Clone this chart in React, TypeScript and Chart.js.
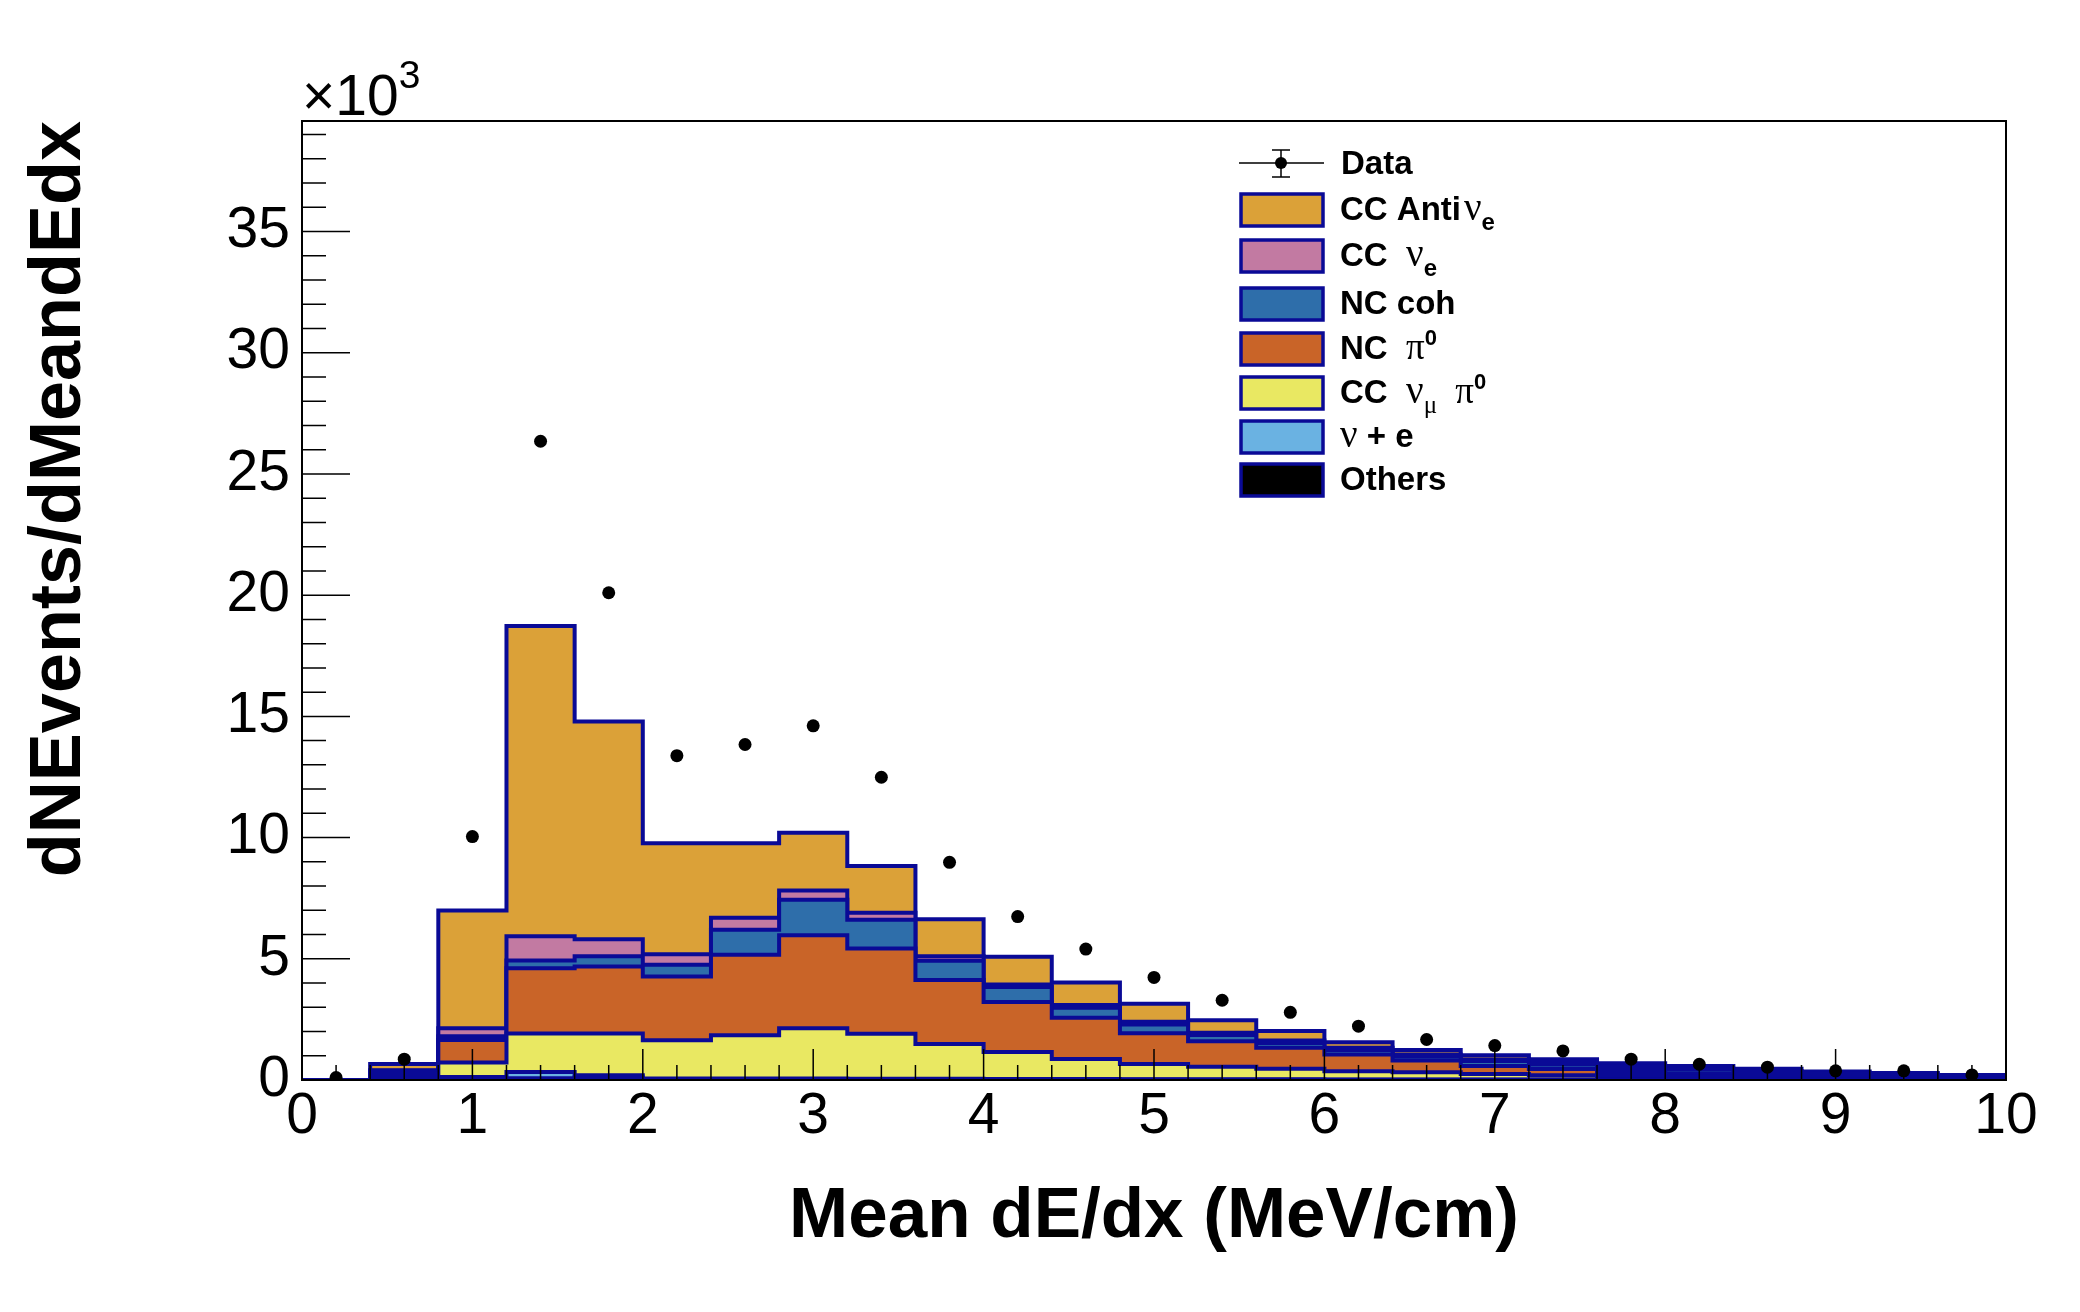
import { useEffect, useRef } from "react";
import { Chart, registerables } from "chart.js";

Chart.register(...registerables);

// bin edges / centres in MeV/cm, counts in units of 10^3
const BIN_EDGES = [0, 0.4, 0.8, 1.2, 1.6, 2.0, 2.4, 2.8, 3.2, 3.6, 4.0, 4.4, 4.8, 5.2, 5.6, 6.0, 6.4, 6.8, 7.2, 7.6, 8.0, 8.4, 8.8, 9.2, 9.6, 10.0];
const BIN_CENTERS = [0.2, 0.6, 1.0, 1.4, 1.8, 2.2, 2.6, 3.0, 3.4, 3.8, 4.2, 4.6, 5.0, 5.4, 5.8, 6.2, 6.6, 7.0, 7.4, 7.8, 8.2, 8.6, 9.0, 9.4, 9.8];

const DATA_VALUES = [0.1, 0.86, 10.04, 26.35, 20.1, 13.38, 13.84, 14.61, 12.49, 8.98, 6.74, 5.4, 4.23, 3.29, 2.79, 2.22, 1.67, 1.42, 1.2, 0.86, 0.65, 0.53, 0.38, 0.38, 0.21];

const OTHERS = [0, 0.06, 0.05, 0.07, 0.1, 0.03, 0.03, 0.03, 0.02, 0.02, 0.02, 0.02, 0.02, 0.01, 0.01, 0.01, 0.01, 0.01, 0.01, 0.01, 0.005, 0.005, 0.005, 0.005, 0.005];
const NU_E = [0, 0.06, 0.07, 0.26, 0.1, 0.03, 0.03, 0.03, 0.03, 0.03, 0.02, 0.02, 0.01, 0.02, 0.02, 0.01, 0.01, 0.01, 0.01, 0.0, 0.005, 0.005, 0.005, 0.005, 0.005];
const CC_NUMU_PI0 = [0, 0.13, 0.6, 1.59, 1.72, 1.58, 1.79, 2.07, 1.86, 1.44, 1.11, 0.83, 0.63, 0.52, 0.43, 0.34, 0.3, 0.23, 0.18, 0.15, 0.12, 0.09, 0.07, 0.05, 0.04];
const NC_PI0 = [0, 0.11, 0.93, 2.69, 2.76, 2.63, 3.32, 3.84, 3.51, 2.63, 2.07, 1.7, 1.27, 1.05, 0.87, 0.69, 0.48, 0.33, 0.25, 0.17, 0.12, 0.09, 0.06, 0.05, 0.03];
const NC_COH = [0, 0.02, 0.15, 0.32, 0.42, 0.48, 1.03, 1.47, 1.19, 0.8, 0.62, 0.41, 0.36, 0.26, 0.2, 0.19, 0.17, 0.2, 0.19, 0.17, 0.17, 0.14, 0.11, 0.09, 0.07];
const CC_NUE = [0, 0.02, 0.33, 1.0, 0.71, 0.44, 0.49, 0.38, 0.29, 0.19, 0.1, 0.11, 0.11, 0.09, 0.1, 0.09, 0.08, 0.07, 0.06, 0.05, 0.04, 0.04, 0.03, 0.03, 0.02];
const CC_ANTINUE = [0, 0.26, 4.86, 12.8, 8.98, 4.58, 3.08, 2.38, 1.93, 1.52, 1.14, 0.93, 0.75, 0.51, 0.39, 0.23, 0.19, 0.17, 0.16, 0.14, 0.12, 0.09, 0.07, 0.06, 0.04];

const Y_TICKS = [0, 5, 10, 15, 20, 25, 30, 35];
const X_TICKS = [0, 1, 2, 3, 4, 5, 6, 7, 8, 9, 10];

const SANS = '"Liberation Sans", Arial, Helvetica, sans-serif';
const SERIF = '"Liberation Serif", "DejaVu Serif", serif';
const NAVY = "#0A0A96";

// bottom of the stack first
const STACK = [
  { values: OTHERS, color: "#000000" },
  { values: NU_E, color: "#6AB2E2" },
  { values: CC_NUMU_PI0, color: "#E9E862" },
  { values: NC_PI0, color: "#C96428" },
  { values: NC_COH, color: "#2E6EAA" },
  { values: CC_NUE, color: "#C27AA2" },
  { values: CC_ANTINUE, color: "#DBA138" },
];

type Seg = { t: string; font: string; dy?: number };
const b = (px: number) => `bold ${px}px ${SANS}`;
const g = (px: number) => `${px}px ${SERIF}`;

// legend rows top to bottom (after the Data row)
const LEGEND = [
  { color: "#DBA138", text: [{ t: "CC Anti", font: b(33) }, { t: " ", font: g(12) }, { t: "ν", font: g(39) }, { t: "e", font: b(24), dy: 10 }] },
  { color: "#C27AA2", text: [{ t: "CC  ", font: b(33) }, { t: "ν", font: g(39) }, { t: "e", font: b(24), dy: 10 }] },
  { color: "#2E6EAA", text: [{ t: "NC coh", font: b(33) }] },
  { color: "#C96428", text: [{ t: "NC  ", font: b(33) }, { t: "π", font: g(37) }, { t: "0", font: b(22), dy: -14 }] },
  {
    color: "#E9E862",
    text: [
      { t: "CC  ", font: b(33) },
      { t: "ν", font: g(39) },
      { t: "μ", font: g(25), dy: 10 },
      { t: "  ", font: b(33) },
      { t: "π", font: g(37) },
      { t: "0", font: b(22), dy: -14 },
    ],
  },
  { color: "#6AB2E2", text: [{ t: "ν", font: g(39) }, { t: " + e", font: b(33) }] },
  { color: "#000000", text: [{ t: "Others", font: b(33) }] },
] as { color: string; text: Seg[] }[];
const LEGEND_ROWS_Y = [163, 210, 256, 304, 349, 393, 437, 480];

const drawSegs = (ctx: CanvasRenderingContext2D, segs: Seg[], x: number, y: number) => {
  let cx = x;
  for (const s of segs) {
    ctx.font = s.font;
    ctx.fillText(s.t, cx, y + (s.dy ?? 0));
    cx += ctx.measureText(s.t).width;
  }
};

const rootAxes = {
  id: "rootAxes",
  afterDatasetsDraw(chart: Chart) {
    const { ctx, chartArea: a } = chart;
    const x = chart.scales.x;
    const y = chart.scales.y;
    ctx.save();
    ctx.strokeStyle = "#000";
    ctx.lineWidth = 1.5;
    ctx.beginPath();
    for (let v = 1; v <= 39; v++) {
      const py = y.getPixelForValue(v);
      const len = Y_TICKS.includes(v) ? 48 : 24;
      ctx.moveTo(a.left, py);
      ctx.lineTo(a.left + len, py);
    }
    for (let i = 1; i < 50; i++) {
      const px = x.getPixelForValue(i / 5);
      const len = i % 5 === 0 ? 31 : 15;
      ctx.moveTo(px, a.bottom);
      ctx.lineTo(px, a.bottom - len);
    }
    ctx.stroke();
    ctx.lineWidth = 2;
    ctx.strokeRect(a.left, a.top, a.right - a.left, a.bottom - a.top);
    ctx.restore();
  },
  afterDraw(chart: Chart) {
    const { ctx, chartArea: a } = chart;
    ctx.save();
    ctx.fillStyle = "#000";
    ctx.textBaseline = "alphabetic";
    ctx.textAlign = "left";
    // axis multiplier
    ctx.font = `57px ${SANS}`;
    ctx.fillText("×10", a.left, 115);
    const w = ctx.measureText("×10").width;
    ctx.font = `39px ${SANS}`;
    ctx.fillText("3", a.left + w, 88);

    // legend: data entry
    const y0 = LEGEND_ROWS_Y[0];
    ctx.strokeStyle = "#000";
    ctx.lineWidth = 1.5;
    ctx.beginPath();
    ctx.moveTo(1239, y0);
    ctx.lineTo(1324, y0);
    ctx.moveTo(1281, y0 - 13);
    ctx.lineTo(1281, y0 + 14);
    ctx.moveTo(1272, y0 - 13);
    ctx.lineTo(1290, y0 - 13);
    ctx.moveTo(1272, y0 + 14);
    ctx.lineTo(1290, y0 + 14);
    ctx.stroke();
    ctx.beginPath();
    ctx.arc(1281, y0, 6, 0, Math.PI * 2);
    ctx.fill();
    ctx.font = b(33);
    ctx.fillText("Data", 1341, y0 + 11);

    LEGEND.forEach((row, i) => {
      const cy = LEGEND_ROWS_Y[i + 1];
      ctx.fillStyle = row.color;
      ctx.fillRect(1241, cy - 16, 82, 32);
      ctx.strokeStyle = NAVY;
      ctx.lineWidth = 3.5;
      ctx.strokeRect(1241, cy - 16, 82, 32);
      ctx.fillStyle = "#000";
      drawSegs(ctx, row.text, 1340, cy + 10);
    });
    ctx.restore();
  },
};

export default function App() {
  const canvasRef = useRef<HTMLCanvasElement>(null);

  useEffect(() => {
    const ctx = canvasRef.current?.getContext("2d");
    if (!ctx) return;

    let running = BIN_CENTERS.map(() => 0);
    const histDatasets = STACK.map((s, k) => {
      running = running.map((r, i) => r + s.values[i]);
      const level = running;
      const pts = [
        { x: BIN_EDGES[0], y: 0 },
        ...level.map((v, i) => ({ x: BIN_EDGES[i], y: v })),
        { x: BIN_EDGES[BIN_EDGES.length - 1], y: level[level.length - 1] },
        { x: BIN_EDGES[BIN_EDGES.length - 1], y: 0 },
      ];
      return {
        type: "line" as const,
        data: pts,
        stepped: "before" as const,
        fill: "origin",
        backgroundColor: s.color,
        borderColor: NAVY,
        borderWidth: 4,
        borderJoinStyle: "miter" as const,
        pointRadius: 0,
        tension: 0,
        order: k + 1,
      };
    });

    const chart = new Chart(ctx, {
      type: "line",
      data: {
        datasets: [
          {
            type: "line",
            data: BIN_CENTERS.map((x, i) => ({ x, y: DATA_VALUES[i] })),
            showLine: false,
            pointRadius: 6.5,
            pointBackgroundColor: "#000",
            pointBorderWidth: 0,
            order: 0,
          },
          ...histDatasets,
        ] as any,
      },
      options: {
        responsive: false,
        devicePixelRatio: 1,
        animation: false,
        layout: { padding: { left: 0, top: 121, right: 74, bottom: 0 } },
        plugins: { legend: { display: false }, tooltip: { enabled: false } },
        scales: {
          x: {
            type: "linear",
            min: 0,
            max: 10,
            border: { display: false },
            grid: { display: false, drawTicks: false },
            afterBuildTicks: (scale: any) => {
              scale.ticks = X_TICKS.map((value) => ({ value }));
            },
            afterFit: (scale: any) => {
              scale.height = 232;
            },
            ticks: {
              padding: 3,
              color: "#000",
              maxRotation: 0,
              autoSkip: false,
              font: { family: SANS, size: 57 },
            },
            title: {
              display: true,
              text: "Mean dE/dx (MeV/cm)",
              color: "#000",
              font: { family: SANS, size: 71, weight: "bold" },
              padding: { bottom: 52 },
            },
          },
          y: {
            type: "linear",
            min: 0,
            max: 39.56,
            border: { display: false },
            grid: { display: false, drawTicks: false },
            afterBuildTicks: (scale: any) => {
              scale.ticks = Y_TICKS.map((value) => ({ value }));
            },
            afterFit: (scale: any) => {
              scale.width = 302;
            },
            ticks: {
              padding: 12,
              color: "#000",
              font: { family: SANS, size: 57 },
            },
            title: {
              display: true,
              text: "dNEvents/dMeandEdx",
              align: "end",
              color: "#000",
              font: { family: SANS, size: 72, weight: "bold" },
              padding: { top: 17 },
            },
          },
        },
      },
      plugins: [rootAxes],
    });

    return () => {
      chart.destroy();
    };
  }, []);

  return (
    <div style={{ position: "absolute", left: 0, top: 0, width: 2080, height: 1312, background: "#fff" }}>
      <canvas ref={canvasRef} width={2080} height={1312} />
    </div>
  );
}
